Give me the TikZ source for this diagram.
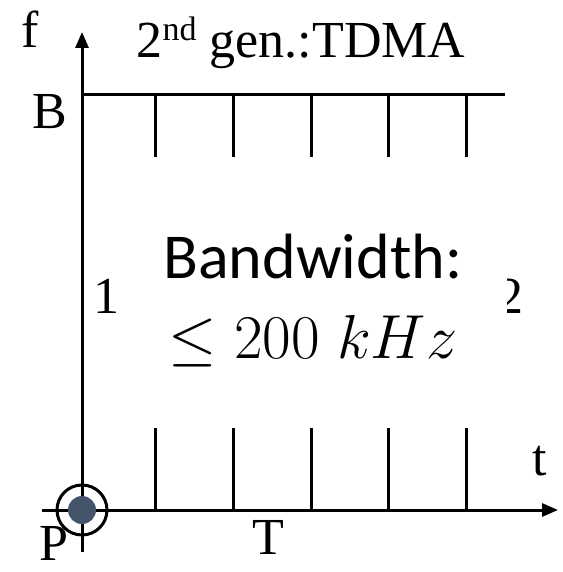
\documentclass[tikz,border=0pt]{standalone}
\usepackage{fontspec}
\setmainfont{Liberation Serif}
\newfontfamily\calib{Carlito}
\usetikzlibrary{arrows.meta}
\begin{document}
\begin{tikzpicture}[x=1pt,y=-1pt,
  axis/.style={line width=3pt,-{Triangle[width=13pt,length=16pt]}},
  ln/.style={line width=3pt},
  lbl/.style={font=\fontsize{52}{56}\selectfont, inner sep=0pt, anchor=base},
  big/.style={font=\calib\fontsize{64}{68}\selectfont, inner sep=0pt, anchor=base}]
\useasboundingbox (0,0) rectangle (562,572);
\fill[white] (0,0) rectangle (562,572);
\coordinate (O) at (82,510);
\coordinate (ytop) at (82,32);
\coordinate (ybot) at (82,552);
\coordinate (xl) at (42,510);
\coordinate (xr) at (558,510);
\coordinate (Bl) at (82,95);
\coordinate (Br) at (505,95);
% axes
\draw[axis] (ybot) -- (ytop);
\draw[axis] (xl) -- (xr);
\draw[ln] (Bl) -- (Br);
% ticks
\foreach \x in {155,233,311,388,466}{
  \draw[ln] (\x,95) -- (\x,157);
  \draw[ln] (\x,428) -- (\x,510);
}
% origin marker
\fill[white] (O) circle (25);
\draw[ln] (O) circle (25);
\draw[ln] (57,510) -- (107,510);
\draw[ln] (82,485) -- (82,535);
\fill[fill={rgb,255:red,68;green,84;blue,106}] (O) circle (14);
% labels
\node[lbl] (f) at (30,48) {f};
\node[lbl] (title) at (301,58) {2{\fontsize{34}{36}\selectfont\raisebox{17pt}{nd}} gen.:TDMA};
\node[lbl] (B) at (50,129) {B};
\node[lbl] (one) at (106,313) {1};
\node[lbl] (two) at (510,313) {2};
\fill[white] (480,265) rectangle (507,325);
\node[lbl] (t) at (540,475) {t};
\node[lbl] (T) at (268,554) {T};
\node[lbl, text depth=0pt] (P) at (54,560) {P};
\node[big] (bw) at (313,278) {Bandwidth:};
\node[inner sep=0pt, anchor=base, font=\Huge, scale=2.5] (bwv) at (313,358) {$\leq 200\;kHz$};
\end{tikzpicture}
\end{document}
